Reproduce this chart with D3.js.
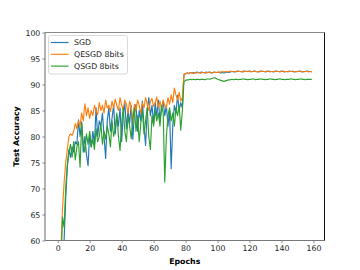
<!DOCTYPE html>
<html><head><meta charset="utf-8">
<script src="https://cdn.jsdelivr.net/npm/d3@7"></script>
<style>body{margin:0;background:#fff}svg{display:block}text{font-family:"DejaVu Sans",sans-serif}</style>
</head><body><svg id="c" width="360" height="270"></svg>
<script>
const seriesNames = ["SGD", "QESGD 8bits", "QSGD 8bits"];
const seriesColors = ["#1f77b4", "#ff7f0e", "#2ca02c"];
const xTicks = [0, 20, 40, 60, 80, 100, 120, 140, 160];
const yTicks = [60, 65, 70, 75, 80, 85, 90, 95, 100];

const sgd = [25,35,45,52,60,68,74,77.5,76,78,
77,79,78.5,83.2,80,82.8,77,80,76.5,74.4,
80.5,78,81,78.5,85.5,80,83,82,84.5,80,
75.8,83,85.5,81,83.5,86,80.5,84,82,85.5,
79,84,86.5,81.5,85,82.5,86,79.5,84.5,86.2,
81,85,83,86.8,82,78.3,85,87.5,84,86,
82.5,86.5,84,87,83,85.5,86.8,84,86,82,
85,73.8,82,86,84.5,87.9,85,86.5,85.5,91.8,
92.1,92.2,92.1,92.3,92.2,92.3,92.2,92.4,92.3,92.3,
92.4,92.3,92.2,92.4,92.3,92.4,92.2,92.3,92.4,92.3,
92.3,92.4,92.2,92.3,92.2,92.3,92.4,92.3,92.4,92.5,
92.5,92.4,92.5,92.6,92.5,92.5,92.4,92.6,92.5,92.5,
92.6,92.5,92.5,92.6,92.5,92.4,92.5,92.6,92.5,92.5,
92.4,92.5,92.6,92.5,92.5,92.4,92.5,92.6,92.5,92.5,
92.6,92.5,92.4,92.5,92.5,92.6,92.5,92.5,92.4,92.5,
92.5,92.6,92.5,92.4,92.5,92.5,92.6,92.5,92.5,92.4];

const qesgd = [30,45,58,66,71,75,77.5,80,80.5,80.2,
81,82.5,81.5,83,82,84.5,83,86.3,84,85.5,
83.5,85,84,86,85,84.2,86.5,85,86,84.5,
87,85.5,86,84.8,86.8,85.5,87.2,86,85,87.5,
86,85.2,87,86.2,84.5,86.8,85.8,82.8,86.2,85,
87,86,84.5,86.5,85.5,87.5,86.2,85,86.8,87.3,
85.8,86.5,87.6,85.5,86.8,85.2,87,86,85.5,87.5,
86.2,88,86.5,89.3,88,87,88.5,86.8,87.5,92.0,
92.1,92.2,92.1,92.3,92.2,92.1,92.3,92.2,92.3,92.2,
92.2,92.3,92.3,92.2,92.3,92.4,92.3,92.2,92.4,92.3,
92.4,92.3,92.4,92.5,92.4,92.5,92.4,92.5,92.6,92.5,
92.4,92.5,92.6,92.5,92.5,92.4,92.6,92.5,92.5,92.6,
92.5,92.4,92.5,92.6,92.5,92.5,92.4,92.5,92.6,92.5,
92.5,92.6,92.5,92.4,92.5,92.5,92.6,92.5,92.5,92.4,
92.5,92.6,92.5,92.5,92.4,92.5,92.5,92.6,92.5,92.4,
92.5,92.5,92.6,92.5,92.4,92.5,92.5,92.4,92.5,92.5];

const qsgd = [30,45,55,64.5,62.5,70,74.5,77,78.5,76,
79,75.5,78,79,74.1,82.5,78.5,77,80.5,78.5,
81,78,79.5,77.5,81.5,79,80,82.5,78.5,81,
79.5,82,80.5,78,83,80,81.5,84.5,80,77.3,
82.5,85.5,81,79,84,82,79.6,83.5,85.5,81,
84,79,82.5,85,80.5,83,85.5,80,77.5,84,
82,85,83,84.5,82,86,84.5,71.2,80,84,
85.5,83,84.5,82,85.5,84,86,81.2,85,90.5,
90.8,90.9,90.9,91.0,90.9,91.0,90.9,91.0,91.0,90.9,
91.0,91.0,90.9,91.0,91.1,91.0,91.1,91.2,91.3,91.2,
91.0,90.9,90.8,90.7,90.6,90.7,90.8,90.9,90.9,91.0,
90.9,91.0,91.0,90.9,91.0,91.0,91.1,91.0,91.0,90.9,
91.0,91.0,91.1,91.0,90.9,91.0,91.0,91.1,91.0,91.0,
90.9,91.0,91.0,91.1,91.0,91.0,90.9,91.0,91.0,91.1,
91.0,91.0,90.9,91.0,91.0,91.0,91.1,91.0,91.0,90.9,
91.0,91.0,91.1,91.0,91.0,90.9,91.0,91.0,91.0,91.0];

const allSeries = [sgd, qesgd, qsgd];

const svg = d3.select("#c");
const L = 45, R = 324.5, T = 32.5, B = 240.5;
const x = d3.scaleLinear().domain([-7.95, 166.95]).range([L, R]);
const y = d3.scaleLinear().domain([60, 100]).range([B, T]);

svg.append("defs").append("clipPath").attr("id","clip")
  .append("rect").attr("x", L).attr("y", T).attr("width", R - L).attr("height", B - T);

const line = d3.line().x((d, i) => x(i)).y(d => y(d));
const g = svg.append("g").attr("clip-path", "url(#clip)");
allSeries.forEach((s, k) => {
  g.append("path").datum(s).attr("d", line).attr("fill", "none")
    .attr("stroke", seriesColors[k]).attr("stroke-width", 1.15).attr("stroke-linejoin", "round");
});

// axes
const xa = svg.append("g").attr("transform", `translate(0,${B})`)
  .call(d3.axisBottom(x).tickValues(xTicks).tickSize(2.7).tickPadding(2).tickSizeOuter(0));
const ya = svg.append("g").attr("transform", `translate(${L},0)`)
  .call(d3.axisLeft(y).tickValues(yTicks).tickSize(2.7).tickPadding(2).tickSizeOuter(0));
[xa, ya].forEach(a => {
  a.select(".domain").remove();
  a.selectAll(".tick line").attr("stroke", "#444").attr("stroke-width", 0.6);
  a.selectAll(".tick text").attr("fill", "#222").style("font-size", "7.8px").style("font-family", "DejaVu Sans");
});

// spines
const sp = svg.append("g").attr("fill", "none");
sp.append("line").attr("x1", L).attr("x2", L).attr("y1", T).attr("y2", B).attr("stroke", "#666").attr("stroke-width", 1);
sp.append("line").attr("x1", L).attr("x2", R).attr("y1", B).attr("y2", B).attr("stroke", "#777").attr("stroke-width", 1);
sp.append("line").attr("x1", L).attr("x2", R).attr("y1", T).attr("y2", T).attr("stroke", "#888").attr("stroke-width", 1);
sp.append("line").attr("x1", R).attr("x2", R).attr("y1", T).attr("y2", B).attr("stroke", "#111").attr("stroke-width", 1);

// labels
svg.append("text").attr("x", (L + R) / 2).attr("y", 263.5).attr("text-anchor", "middle")
  .style("font-size", "7.8px").style("font-weight", "bold").text("Epochs");
svg.append("text").attr("transform", `translate(19,${(T + B) / 2}) rotate(-90)`).attr("text-anchor", "middle")
  .style("font-size", "7.8px").style("font-weight", "bold").text("Test Accuracy");

// legend
const lg = svg.append("g");
lg.append("rect").attr("x", 48.5).attr("y", 35.5).attr("width", 79).attr("height", 38.5).attr("rx", 2)
  .attr("fill", "#fff").attr("fill-opacity", 0.8).attr("stroke", "#d0d0d0").attr("stroke-width", 0.8);
seriesNames.forEach((n, k) => {
  const yy = 42.5 + k * 11.8;
  lg.append("line").attr("x1", 51).attr("x2", 68.5).attr("y1", yy).attr("y2", yy)
    .attr("stroke", seriesColors[k]).attr("stroke-width", 1.15);
  lg.append("text").attr("x", 74).attr("y", yy).attr("dy", "0.35em").attr("fill", "#222")
    .style("font-size", "7.8px").text(n);
});
</script></body></html>
